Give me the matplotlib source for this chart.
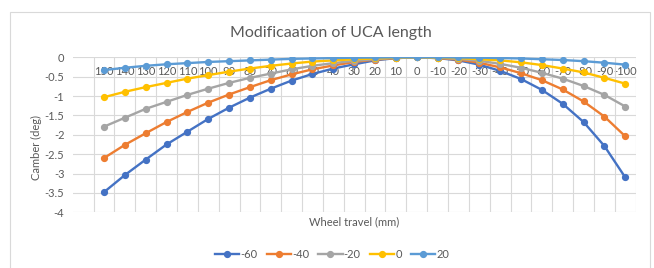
import matplotlib
matplotlib.use('Agg')
import matplotlib.pyplot as plt
from matplotlib.patches import Rectangle

plt.rcParams['font.family'] = ['Lato', 'DejaVu Sans']

# wheel travel categories (mm), first slot of the axis is left empty
travel = ['150', '140', '130', '120', '110', '100', '90', '80', '70', '60',
          '50', '40', '30', '20', '10', '0', '-10', '-20', '-30', '-40',
          '-50', '-60', '-70', '-80', '-90', '-100']

uca_names = ['-60', '-40', '-20', '0', '20']
camber_m60 = [-3.48, -3.04, -2.64, -2.25, -1.92, -1.59, -1.30, -1.04, -0.81,
              -0.60, -0.43, -0.29, -0.18, -0.08, -0.02, 0.0, -0.02, -0.08,
              -0.19, -0.35, -0.56, -0.84, -1.20, -1.67, -2.29, -3.10]
camber_m40 = [-2.60, -2.26, -1.96, -1.67, -1.41, -1.17, -0.96, -0.77, -0.59,
              -0.44, -0.31, -0.21, -0.12, -0.06, -0.02, 0.0, -0.02, -0.06,
              -0.14, -0.26, -0.41, -0.59, -0.83, -1.14, -1.53, -2.04]
camber_m20 = [-1.79, -1.56, -1.33, -1.15, -0.97, -0.81, -0.66, -0.53, -0.42,
              -0.31, -0.22, -0.15, -0.09, -0.05, -0.01, 0.0, -0.01, -0.04,
              -0.09, -0.17, -0.27, -0.40, -0.55, -0.74, -0.97, -1.27]
camber_0 = [-1.03, -0.89, -0.77, -0.66, -0.55, -0.46, -0.37, -0.29, -0.22,
            -0.16, -0.11, -0.08, -0.05, -0.03, -0.01, 0.0, -0.01, -0.02,
            -0.05, -0.08, -0.13, -0.20, -0.29, -0.39, -0.53, -0.68]
camber_20 = [-0.33, -0.27, -0.22, -0.18, -0.15, -0.12, -0.10, -0.08, -0.06,
             -0.04, -0.03, -0.02, -0.01, -0.005, 0.0, 0.0, 0.0, -0.005,
             -0.01, -0.02, -0.03, -0.05, -0.07, -0.10, -0.14, -0.19]
series = [camber_m60, camber_m40, camber_m20, camber_0, camber_20]
colors = ['#4472C4', '#ED7D31', '#A5A5A5', '#FFC000', '#5B9BD5']

W, H = 654, 268
fig = plt.figure(figsize=(W / 100, H / 100), dpi=100)
fig.patches.append(Rectangle((10 / W, -0.05), 640 / W, 1.0 - 12 / H + 0.05,
                             transform=fig.transFigure, fill=False,
                             edgecolor='#D9D9D9', linewidth=0.8))

ax = fig.add_axes([72.7 / W, 1 - 212.3 / H, 563 / W, 155 / H])
x = list(range(len(travel)))
for vals, name, c in zip(series, uca_names, colors):
    ax.plot(x, vals, color=c, lw=1.7, marker='o', ms=4.2, label=name)

ax.set_xlim(-1.5, len(travel) - 0.5)
ax.set_ylim(-4, 0)
ax.set_yticks([-4, -3.5, -3, -2.5, -2, -1.5, -1, -0.5, 0])
ax.set_yticklabels(['-4', '-3.5', '-3', '-2.5', '-2', '-1.5', '-1', '-0.5',
                    '0'])
ax.set_xticks(x)
ax.set_xticklabels(travel)
ax.set_xticks([i - 0.5 for i in range(len(travel) + 1)], minor=True)
ax.grid(True, axis='y', color='#D9D9D9', lw=0.8)
ax.grid(True, axis='x', which='minor', color='#D9D9D9', lw=0.8)
ax.set_axisbelow(True)
for s in ax.spines.values():
    s.set_visible(False)
ax.tick_params(axis='x', which='both', length=0, bottom=False,
               labelbottom=False, top=False, labeltop=True, pad=-14,
               labelsize=8, labelcolor='#595959')
ax.tick_params(axis='y', length=0, labelsize=8, labelcolor='#595959', pad=6)

fig.text(331 / W, 1 - 33 / H, 'Modificaation of UCA length', ha='center',
         va='center', fontsize=11.5, color='#595959')
fig.text(354 / W, 1 - 222 / H, 'Wheel travel (mm)', ha='center',
         va='center', fontsize=8, color='#595959')
fig.text(36 / W, 1 - 147 / H, 'Camber (deg)', ha='center', va='center',
         rotation=90, fontsize=8, color='#595959')

fig.legend(loc='center', bbox_to_anchor=(332 / W, 1 - 254 / H), ncol=5,
           frameon=False, fontsize=8, handlelength=2.2, handletextpad=0.1,
           columnspacing=0.8, labelcolor='#595959')

fig.savefig('out.png', dpi=100)
